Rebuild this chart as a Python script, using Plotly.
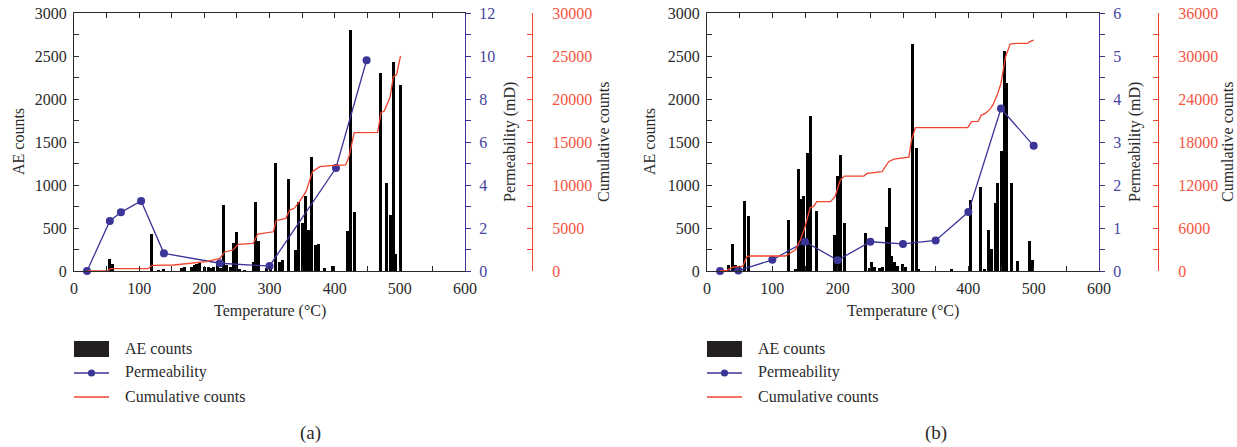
import plotly.graph_objects as go

W, H = 1237, 447

# ---------------- data (a) ----------------
bar_temp_a = [55, 59, 119, 130, 138, 165, 170, 180, 185, 188, 193, 201, 206, 210, 214, 220, 225, 230, 234,
              240, 245, 249, 254, 262, 275, 279, 283, 295, 302, 309, 315, 320, 329, 340, 345, 351, 356, 360,
              365, 371, 375, 384, 396, 419, 425, 430, 470, 479, 486, 490, 494, 501]
ae_a = [143, 81, 430, 10, 20, 31, 50, 50, 66, 81, 97, 50, 43, 35, 50, 120, 31, 767, 70,
        50, 330, 453, 23, 8, 109, 802, 353, 39, 50, 1256, 108, 128, 1070, 244, 798, 554, 872, 477,
        1325, 302, 314, 31, 58, 465, 2802, 686, 2302, 1019, 655, 2430, 198, 2159]

perm_temp_a = [20, 55, 72, 103, 138, 224, 300, 402, 449]
perm_a = [0, 2.33, 2.73, 3.26, 0.82, 0.36, 0.23, 4.79, 9.8]

cum_temp_a = [20, 51, 56, 114, 120, 153, 203, 224, 231, 244, 252, 275, 282, 300, 306, 310, 325, 331, 338,
              346, 356, 366, 377, 394, 417, 422, 430, 466, 471, 476, 485, 490, 495, 501]
cum_a = [0, 0, 271, 271, 659, 700, 1085, 1470, 2210, 2440, 3100, 3217, 4300, 4500, 4560, 5850, 6120, 7090, 7290,
         8060, 9225, 11550, 12130, 12250, 12330, 13300, 16090, 16120, 18400, 18600, 20200, 22600, 22800, 25000]

# ---------------- data (b) ----------------
bar_temp_b = [33, 39, 44, 48, 58, 64, 124, 135, 140, 144, 148, 154, 159, 168, 195, 199, 204, 210, 243, 248,
              252, 256, 264, 268, 275, 279, 283, 287, 292, 299, 304, 315, 320, 324, 374, 404, 419, 424, 431,
              435, 441, 445, 451, 455, 459, 466, 475, 494, 498]
ae_b = [70, 314, 70, 30, 818, 640, 593, 15, 1186, 837, 872, 1372, 1802, 698, 419, 1108, 1349, 562, 446, 39,
        101, 50, 31, 50, 512, 965, 178, 109, 58, 81, 50, 2640, 1434, 23, 12, 825, 973, 23, 477,
        256, 795, 1023, 1392, 2558, 2186, 1023, 120, 349, 128]

perm_temp_b = [20, 48, 100, 150, 200, 250, 300, 350, 400, 450, 500]
perm_b = [0, 0.01, 0.26, 0.68, 0.25, 0.68, 0.63, 0.71, 1.37, 3.78, 2.91]

cum_temp_b = [20, 31, 38, 51, 55, 61, 66, 120, 128, 135, 143, 150, 158, 163, 168, 189, 196, 204, 210, 240,
              245, 268, 278, 286, 309, 313, 319, 399, 405, 415, 420, 426, 433, 438, 445, 450, 457, 464, 473,
              491, 494, 500]
cum_b = [0, 100, 510, 600, 690, 2000, 2090, 2090, 2560, 2930, 4320, 6180, 8880, 8975, 9670, 9670, 10370, 12700,
         13250, 13250, 13620, 13860, 15250, 15620, 15900, 18270, 20000, 20000, 20830, 20880, 21760, 22000,
         22550, 23250, 24780, 26180, 29900, 31670, 31760, 31760, 32000, 32220]

x_ticks = [0, 100, 200, 300, 400, 500, 600]

# ---------------- styles ----------------
FONT = "Liberation Serif"
TXT = "#2a2a2a"
FRAME = "#2a2a2a"
BLUE = "#3a3596"
BLUE_T = "#45449e"
RED = "#f0442e"
RED_T = "#f4553f"
FS = 16


def px(x):
    return x / W


def py(y):
    return 1 - y / H


fig = go.Figure()

panels = [
    dict(bt=bar_temp_a, ae=ae_a, pt=perm_temp_a, pv=perm_a, ct=cum_temp_a, cv=cum_a,
         xa="x", ya="y", yp="y2", yc="y3"),
    dict(bt=bar_temp_b, ae=ae_b, pt=perm_temp_b, pv=perm_b, ct=cum_temp_b, cv=cum_b,
         xa="x2", ya="y4", yp="y5", yc="y6"),
]
for p in panels:
    fig.add_trace(go.Bar(x=p["bt"], y=p["ae"], width=4.6, marker=dict(color="#000000", line_width=0),
                         xaxis=p["xa"], yaxis=p["ya"], name="AE counts", showlegend=False))
    fig.add_trace(go.Scatter(x=p["pt"], y=p["pv"], mode="lines+markers",
                             line=dict(color=BLUE, width=1.3), marker=dict(color=BLUE, size=8),
                             xaxis=p["xa"], yaxis=p["yp"], name="Permeability", showlegend=False,
                             cliponaxis=False))
    fig.add_trace(go.Scatter(x=p["ct"], y=p["cv"], mode="lines",
                             line=dict(color=RED, width=1.3),
                             xaxis=p["xa"], yaxis=p["yc"], name="Cumulative counts", showlegend=False))

tickfont = dict(family=FONT, size=FS, color=TXT)
ydom = [py(271), py(13)]


def xaxis_cfg(x0, x1, anchor):
    return dict(domain=[px(x0), px(x1)], anchor=anchor, range=[0, 600], tickvals=x_ticks,
                showline=True, linecolor=FRAME, linewidth=1.2, mirror="ticks",
                ticks="inside", ticklen=5, tickwidth=1, tickcolor=FRAME,
                minor=dict(dtick=50, ticks="inside", ticklen=5, tickwidth=1, tickcolor=FRAME),
                showgrid=False, zeroline=False, tickfont=tickfont, ticklabelstandoff=3,
                automargin=False)


def yleft_cfg(anchor):
    return dict(domain=ydom, anchor=anchor, range=[0, 3000], dtick=500,
                showline=True, linecolor=FRAME, linewidth=1.2,
                ticks="inside", ticklen=5, tickwidth=1, tickcolor=FRAME,
                minor=dict(dtick=250, ticks="inside", ticklen=5, tickwidth=1, tickcolor=FRAME),
                showgrid=False, zeroline=False, tickfont=tickfont, ticklabelstandoff=3,
                automargin=False)


def yperm_cfg(overlay, anchor, rng, dt, mdt):
    return dict(overlaying=overlay, anchor=anchor, side="right", range=[0, rng], dtick=dt,
                showline=True, linecolor=BLUE, linewidth=1.2,
                ticks="outside", ticklen=5, tickwidth=1, tickcolor=BLUE,
                minor=dict(dtick=mdt, ticks="outside", ticklen=5, tickwidth=1, tickcolor=BLUE),
                showgrid=False, zeroline=False, tickfont=dict(family=FONT, size=FS, color=BLUE_T),
                ticklabelstandoff=5, automargin=False)


def ycum_cfg(overlay, pos, rng, dt, mdt):
    return dict(overlaying=overlay, anchor="free", position=px(pos), side="right", range=[0, rng],
                dtick=dt, tickformat="d", showline=True, linecolor=RED, linewidth=1.2,
                ticks="inside", ticklen=5, tickwidth=1, tickcolor=RED,
                minor=dict(dtick=mdt, ticks="inside", ticklen=5, tickwidth=1, tickcolor=RED),
                showgrid=False, zeroline=False, tickfont=dict(family=FONT, size=FS, color=RED_T),
                ticklabelstandoff=16, automargin=False)


fig.update_layout(
    xaxis=xaxis_cfg(74, 465, "y"),
    yaxis=yleft_cfg("x"),
    yaxis2=yperm_cfg("y", "x", 12, 2, 1),
    yaxis3=ycum_cfg("y", 532, 30000, 5000, 2500),
    xaxis2=xaxis_cfg(707, 1099, "y4"),
    yaxis4=yleft_cfg("x2"),
    yaxis5=yperm_cfg("y4", "x2", 6, 1, 0.5),
    yaxis6=ycum_cfg("y4", 1158, 36000, 6000, 3000),
)

ann = []
shapes = []


def text(x, y, s, angle=0, size=FS, color=TXT, xanchor="center"):
    ann.append(dict(x=px(x), y=py(y), xref="paper", yref="paper", text=s, showarrow=False,
                    textangle=angle, xanchor=xanchor, yanchor="middle",
                    font=dict(family=FONT, size=size, color=color)))


for dx, label, cx in [(0, "(a)", 310), (633, "(b)", 936)]:
    x0 = 74 + dx
    x1 = 465 + dx
    text((x0 + x1) / 2, 311, "Temperature (°C)")
    text(cx, 433, label, size=19)
    # legend
    shapes.append(dict(type="rect", xref="paper", yref="paper", x0=px(x0), x1=px(x0 + 35),
                       y0=py(357), y1=py(341), fillcolor="#231f20", line_width=0))
    shapes.append(dict(type="line", xref="paper", yref="paper", x0=px(x0), x1=px(x0 + 35),
                       y0=py(373), y1=py(373), line=dict(color=BLUE, width=1.3)))
    shapes.append(dict(type="circle", xref="paper", yref="paper", x0=px(x0 + 17.5 - 3.6),
                       x1=px(x0 + 17.5 + 3.6), y0=py(373 + 3.6), y1=py(373 - 3.6),
                       fillcolor=BLUE, line_width=0))
    shapes.append(dict(type="line", xref="paper", yref="paper", x0=px(x0), x1=px(x0 + 35),
                       y0=py(397), y1=py(397), line=dict(color=RED, width=1.3)))
    text(x0 + 49, 348, "AE counts", xanchor="left")
    text(x0 + 49, 372, "Permeability", xanchor="left")
    text(x0 + 49, 396, "Cumulative counts", xanchor="left")

text(18, 142, "AE counts", angle=-90)
text(510, 142, "Permeability (mD)", angle=-90)
text(603, 142, "Cumulative counts", angle=-90)
text(649, 142, "AE counts", angle=-90)
text(1135, 142, "Permeability (mD)", angle=-90)
text(1227, 142, "Cumulative counts", angle=-90)

fig.update_layout(
    annotations=ann, shapes=shapes,
    width=W, height=H, autosize=False,
    margin=dict(l=0, r=0, t=0, b=0, autoexpand=False),
    paper_bgcolor="white", plot_bgcolor="white",
    showlegend=False, bargap=0,
    font=dict(family=FONT, size=FS, color=TXT),
)

fig.write_html("out.html", config={"displayModeBar": False},
               post_script="document.body.style.margin='0';document.body.style.overflow='hidden';")
